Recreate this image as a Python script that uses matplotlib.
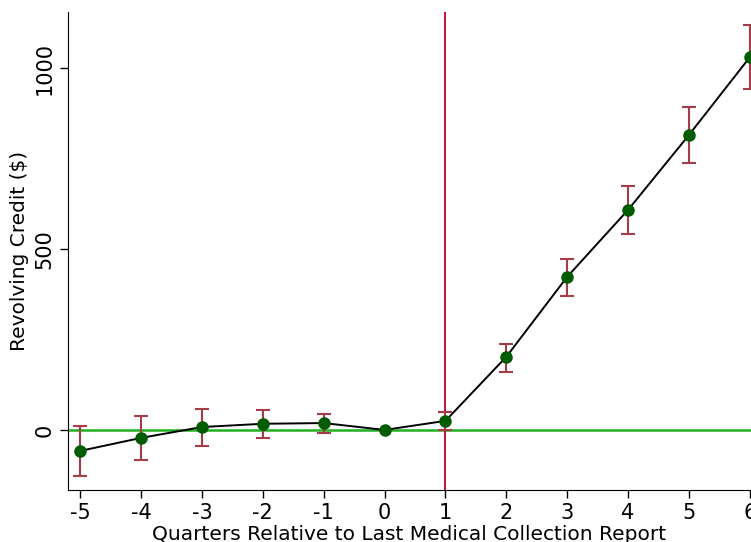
import matplotlib
matplotlib.use("Agg")
import matplotlib.pyplot as plt

quarters = [-5, -4, -3, -2, -1, 0, 1, 2, 3, 4, 5, 6]
estimate = [-58, -22, 8, 17, 19, 0, 25, 202, 423, 608, 815, 1030]
ci_low = [-127, -83, -44, -22, -8, 0, 0, 160, 370, 541, 738, 942]
ci_high = [11, 39, 58, 55, 44, 0, 50, 238, 472, 674, 892, 1119]
event_quarter = 1

plt.rcParams["font.family"] = ["DejaVu Sans"]
plt.rcParams["axes.unicode_minus"] = False

fig = plt.figure(figsize=(7.51, 5.42), dpi=100)
ax = fig.add_axes([68 / 751, 52 / 542, 1 - 68 / 751, 478 / 542])

ax.axhline(0, color="#22b022", lw=1.8, zorder=1)
ax.axvline(event_quarter, color="#c8103c", lw=1.4, zorder=1)

# quarter 0 is the reference period, so no interval there
err_x = [q for q in quarters if q != 0]
err_y = [e for q, e in zip(quarters, estimate) if q != 0]
lo = [e - l for q, e, l in zip(quarters, estimate, ci_low) if q != 0]
hi = [h - e for q, e, h in zip(quarters, estimate, ci_high) if q != 0]
ax.errorbar(err_x, err_y, yerr=[lo, hi], fmt="none", ecolor="#a63c46",
            elinewidth=1.5, capsize=5, capthick=1.5, zorder=2)
ax.plot(quarters, estimate, color="black", lw=1.4, zorder=3)
ax.plot(quarters, estimate, "o", color="#005c00", ms=8, zorder=4)

ax.set_xlim(-5.2, 6.02)
ax.set_ylim(-166, 1155)
ax.set_xticks(quarters)
ax.set_yticks([0, 500, 1000])
ax.tick_params(axis="both", labelsize=15, length=6, width=1)
for lab in ax.get_yticklabels():
    lab.set_rotation(90)
    lab.set_va("center")
ax.spines["top"].set_visible(False)
ax.spines["right"].set_visible(False)
ax.set_xlabel("Quarters Relative to Last Medical Collection Report", fontsize=14.5, labelpad=1)
ax.set_ylabel("Revolving Credit ($)", fontsize=14.5, labelpad=4)

fig.savefig("out.png", dpi=100)
